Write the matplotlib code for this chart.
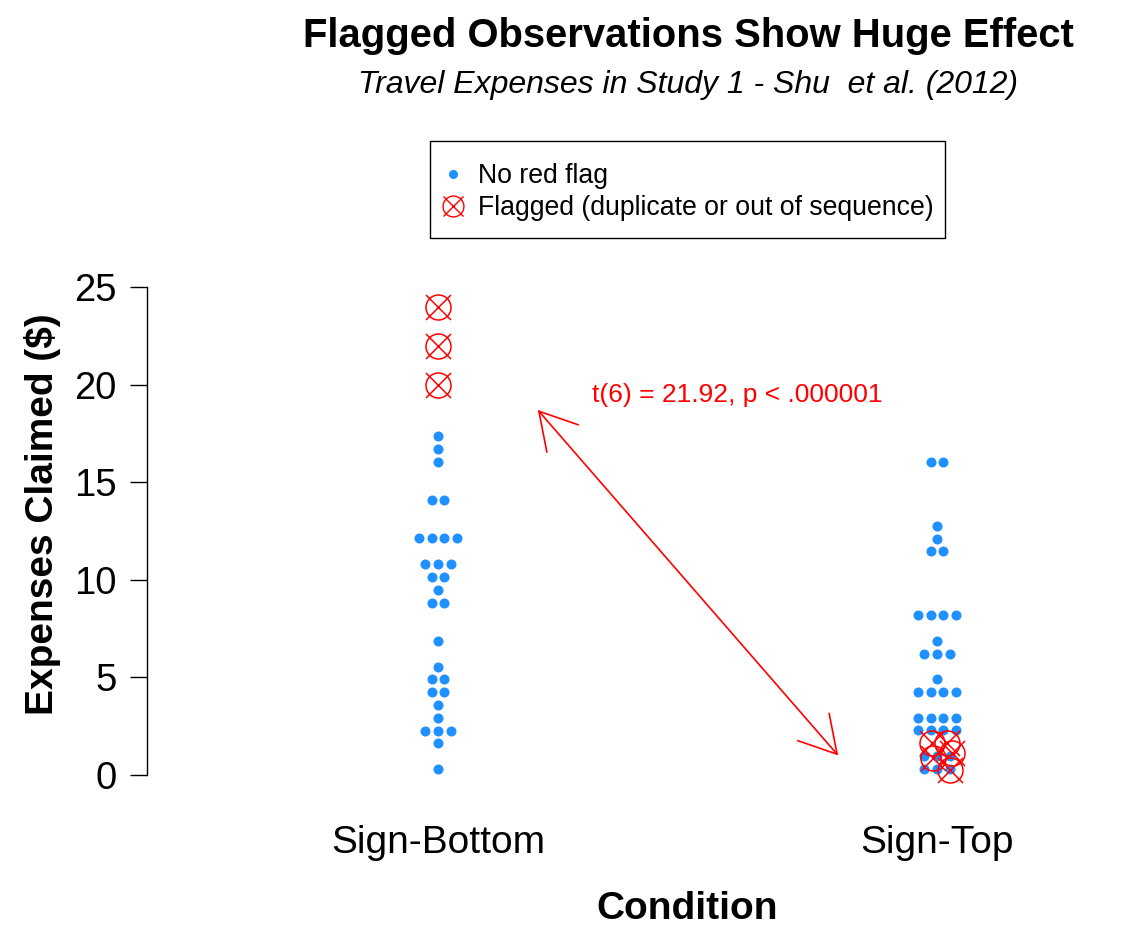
import numpy as np
import matplotlib
matplotlib.use("Agg")
import matplotlib.pyplot as plt
from matplotlib.lines import Line2D
from matplotlib.patches import Rectangle, FancyArrowPatch, ArrowStyle

plt.rcParams["font.family"] = ["Liberation Sans", "DejaVu Sans"]

conditions = ["Sign-Bottom", "Sign-Top"]

# (value, count) rows of the unflagged observations, as binned by the swarm
bottom_rows = [(17.37, 1), (16.68, 1), (16.05, 1), (14.09, 2), (12.12, 4),
               (10.79, 3), (10.16, 2), (9.48, 1), (8.83, 2), (6.86, 1),
               (5.55, 1), (4.90, 2), (4.24, 2), (3.59, 1), (2.94, 1),
               (2.27, 3), (1.62, 1), (0.31, 1)]
top_rows = [(16.03, 2), (12.76, 1), (12.10, 1), (11.46, 2), (8.18, 4),
            (6.86, 1), (6.21, 3), (4.90, 1), (4.25, 4), (2.94, 4),
            (2.29, 4), (0.97, 3), (0.31, 3)]

# flagged observations
bottom_flag = [24.0, 22.0, 20.0]
top_flag = [1.62, 1.65, 1.13, 0.87, 0.26]
top_flag_jitter = [-0.010, 0.020, 0.030, -0.008, 0.026]

stat_text = "t(6) = 21.92, p < .000001"

blue = "#1E90FF"
red = "#FF0000"
W, H = 1124, 950

fig = plt.figure(figsize=(W / 100, H / 100), dpi=100)
ax = fig.add_axes([147 / W, (H - 790) / H, (1100 - 147) / W, (790 - 270) / H])


def swarm(rows, center, step=0.0255):
    xs, ys = [], []
    for val, n in rows:
        offs = (np.arange(n) - (n - 1) / 2) * step
        xs.extend(center + offs)
        ys.extend([val] * n)
    return xs, ys


for i, rows in enumerate([bottom_rows, top_rows]):
    x, y = swarm(rows, i + 1)
    ax.scatter(x, y, s=52, color=blue, linewidths=0, zorder=2)


def flag(x, y):
    ax.plot(x, y, ls="none", marker="o", ms=18, mfc="none", mec=red, mew=1.1, zorder=3)
    ax.plot(x, y, ls="none", marker="x", ms=18, mec=red, mew=1.1, zorder=3)


flag([1] * len(bottom_flag), bottom_flag)
flag(2 + np.array(top_flag_jitter), top_flag)

# arrow between the groups
arr = FancyArrowPatch((1.2, 18.7), (1.802, 1.0),
                      arrowstyle=ArrowStyle("<->", head_length=26, head_width=15),
                      mutation_scale=1, color=red, lw=1.2, shrinkA=0, shrinkB=0)
ax.add_patch(arr)
ax.text(1.309, 19.45, stat_text, color=red, fontsize=19, ha="left", va="center")

ax.set_xlim(1 - 291 / 499, 2 + 163 / 499)
ax.set_ylim(-15 / 19.52, 25 + 17 / 19.52)

for s in ["top", "right", "bottom"]:
    ax.spines[s].set_visible(False)
ax.spines["left"].set_bounds(0, 25)
ax.spines["left"].set_linewidth(1.0)
ax.set_yticks([0, 5, 10, 15, 20, 25])
ax.tick_params(axis="y", length=12, width=1.0, labelsize=27.5, pad=10)
ax.set_xticks([1, 2], conditions)
ax.tick_params(axis="x", length=0, labelsize=28, pad=25)

ax.set_ylabel("Expenses Claimed ($)", fontsize=28, fontweight="bold")
ax.yaxis.set_label_coords(-0.090, (790 - 514) / 520)
ax.set_xlabel("Condition", fontsize=28, fontweight="bold", va="top")
ax.xaxis.set_label_coords(0.567, -0.194)

fig.text(688 / W, 1 - 36 / H, "Flagged Observations Show Huge Effect",
         fontsize=28.8, fontweight="bold", ha="center", va="center")
fig.text(688 / W, 1 - 85 / H, "Travel Expenses in Study 1 - Shu  et al. (2012)",
         fontsize=23, style="italic", ha="center", va="center")

# legend box
fig.add_artist(Rectangle((430 / W, 1 - 238 / H), 515 / W, 97 / H, transform=fig.transFigure,
                         fill=False, ec="black", lw=1.0))
fig.add_artist(Line2D([453 / W], [1 - 174 / H], transform=fig.transFigure,
                      ls="none", marker="o", ms=5.5, mfc=blue, mec=blue))
for m in ["o", "x"]:
    fig.add_artist(Line2D([453 / W], [1 - 206 / H], transform=fig.transFigure,
                          ls="none", marker=m, ms=15, mfc="none", mec=red, mew=1.0))
fig.text(478 / W, 1 - 176 / H, "No red flag", fontsize=19.2, ha="left", va="center")
fig.text(478 / W, 1 - 208 / H, "Flagged (duplicate or out of sequence)", fontsize=19.2,
         ha="left", va="center")

fig.savefig("out.png", dpi=100)
